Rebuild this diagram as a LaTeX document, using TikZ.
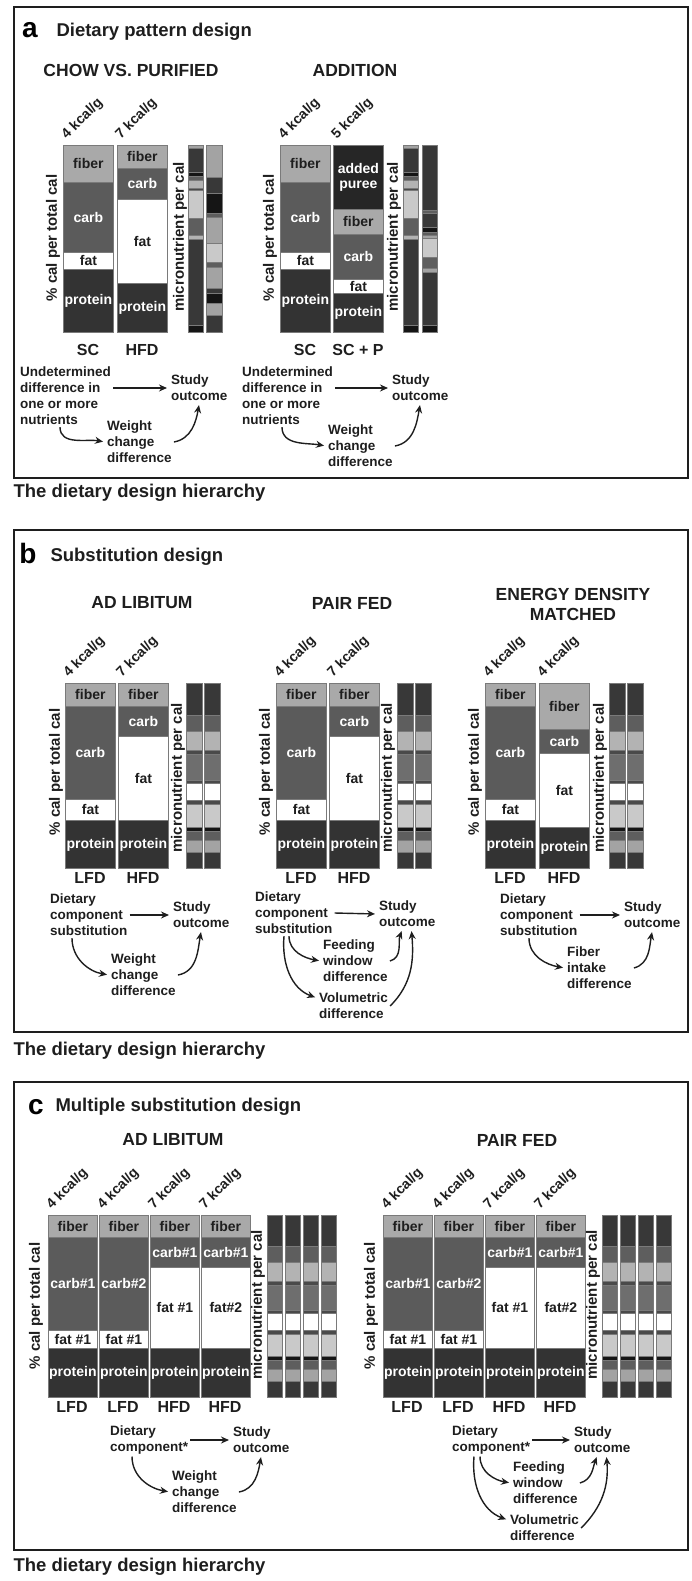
\documentclass[tikz,border=0pt]{standalone}
\usepackage{fontspec}
\setmainfont{Liberation Sans}
\usetikzlibrary{positioning, arrows.meta, calc}

\definecolor{fibergray}{HTML}{A9A9A9}
\definecolor{carbgray}{HTML}{5B5B5B}
\definecolor{protgray}{HTML}{333333}
\definecolor{pureegray}{HTML}{262626}
\definecolor{edgegray}{HTML}{7A7A7A}
\definecolor{inkgray}{HTML}{1E1E1E}
\definecolor{mdark}{HTML}{383838}
\definecolor{mmid}{HTML}{5E5E5E}
\definecolor{mmidb}{HTML}{6E6E6E}
\definecolor{mlight}{HTML}{B3B3B3}
\definecolor{mvlight}{HTML}{C9C9C9}
\definecolor{mthin}{HTML}{4A4A4A}
\definecolor{mblack}{HTML}{151515}
\definecolor{mgrey}{HTML}{A3A3A3}

% stacked diet bar: name, x, width, list of top/bottom/style/text
\newcommand{\dietbar}[4]{%
  \foreach \ya/\yb/\kind/\txt [count=\i] in {#4}
    \node[\kind, minimum width=#3, minimum height=\yb-\ya] (#1-\i) at (#2,-\ya) {\txt};
}
% micronutrient bar with absolute stripes: x, width, list of top/bottom/colour
\newcommand{\microbar}[3]{%
  \foreach \ya/\yb/\cl in {#3}
    \filldraw[fill=\cl, draw=edgegray, line width=0.5pt] (#1,-\ya) rectangle (#1+#2,-\yb);
}
% micronutrient bar, standard stripes: x, width, top, height
\newcommand{\microfrac}[4]{%
  \foreach \fa/\fb/\cl in {0/.173/mdark, .173/.259/mmid, .259/.362/mlight, .362/.384/mthin,
      .384/.524/mmidb, .524/.541/mthin, .541/.632/white, .632/.654/mthin, .654/.778/mvlight,
      .778/.8/mblack, .8/.849/mmid, .849/.914/mgrey, .914/1/mdark}
    \filldraw[fill=\cl, draw=edgegray, line width=0.5pt] (#1,{-(#3+\fa*#4)}) rectangle (#1+#2,{-(#3+\fb*#4)});
}

\begin{document}
\begin{tikzpicture}[
  x=1pt, y=1pt,
  seg/.style={draw=edgegray, line width=0.8pt, inner sep=0pt, align=center, anchor=north west,
    font=\fontsize{14}{15}\selectfont\bfseries},
  fiberseg/.style={seg, fill=fibergray, text=inkgray},
  carbseg/.style={seg, fill=carbgray, text=white},
  fatseg/.style={seg, fill=white, text=inkgray},
  protseg/.style={seg, fill=protgray, text=white},
  pureeseg/.style={seg, fill=pureegray, text=white},
  kcal/.style={rotate=45, anchor=south west, inner sep=0pt, text=inkgray, font=\fontsize{14}{14}\selectfont\bfseries},
  axislab/.style={rotate=90, inner sep=0pt, text=inkgray, font=\fontsize{15}{15}\selectfont\bfseries},
  dietlab/.style={text=inkgray, font=\fontsize{16}{16}\selectfont\bfseries},
  grouptitle/.style={align=center, text=inkgray, font=\fontsize{17.5}{20}\selectfont\bfseries},
  paneltitle/.style={anchor=west, text=inkgray, font=\fontsize{18.5}{18.5}\selectfont\bfseries},
  letter/.style={inner sep=0pt, text=black, font=\fontsize{28}{28}\selectfont\bfseries},
  hier/.style={anchor=west, text=inkgray, font=\fontsize{18.5}{18.5}\selectfont\bfseries},
  causal/.style={anchor=west, align=left, inner sep=2pt, text=inkgray, font=\fontsize{13.5}{16}\selectfont\bfseries},
  arr/.style={-{Stealth[length=8pt, width=7pt]}, line width=1.4pt, draw=inkgray, shorten >=2pt},
  panel/.style={draw=inkgray, line width=1.4pt}
]
\useasboundingbox (0,0) rectangle (691,-1581);

% ---------- panel a
\draw[panel] (14,-7) rectangle (688,-478);
\node[letter] (lettera) at (30,-30) {a};
\node[paneltitle] (titlea) at (53,-32) {Dietary pattern design};
\node[grouptitle] (chowtitle) at (131,-70) {CHOW VS. PURIFIED};
\node[grouptitle] (addtitle) at (355,-70) {ADDITION};

\dietbar{aSC}{63}{50}{145/182/fiberseg/fiber, 182/252/carbseg/carb, 252/269/fatseg/fat, 269/332/protseg/protein}
\dietbar{aHFD}{117}{50}{145/168/fiberseg/fiber, 168/199/carbseg/carb, 199/283/fatseg/fat, 283/332/protseg/protein}
\dietbar{aSCb}{280}{50}{145/182/fiberseg/fiber, 182/252/carbseg/carb, 252/269/fatseg/fat, 269/332/protseg/protein}
\dietbar{aSCP}{333}{50}{145/209/pureeseg/{added\\puree}, 209/234/fiberseg/fiber, 234/279/carbseg/carb, 279/293/fatseg/fat, 293/332/protseg/protein}

\microbar{188}{15}{145/148/mgrey, 148/172/mdark, 172/176/mblack, 176/180/mmid, 180/188/mlight, 188/190/mthin,
  190/218/mvlight, 218/235/mmid, 235/239/mlight, 239/325/mdark, 325/332/mblack}
\microbar{206}{16}{145/177/mgrey, 177/193/mdark, 193/213/mblack, 213/217/mmid, 217/243/mgrey, 243/262/mvlight,
  262/267/mmid, 267/288/mgrey, 288/293/mdark, 293/303/mblack, 303/315/mgrey, 315/332/mdark}
\microbar{403}{15}{145/148/mgrey, 148/172/mdark, 172/176/mblack, 176/180/mmid, 180/188/mlight, 188/190/mthin,
  190/218/mvlight, 218/235/mmid, 235/239/mlight, 239/325/mdark, 325/332/mblack}
\microbar{422}{15}{145/210/mdark, 210/213/mmid, 213/227/mdark, 227/232/mblack, 232/235/mmid, 235/238/mgrey,
  238/257/mvlight, 257/268/mmid, 268/272/mgrey, 272/325/mdark, 325/332/mblack}

\node[kcal] (kSC) at (69,-142) {4 kcal/g};
\node[kcal] (kHFD) at (123,-142) {7 kcal/g};
\node[kcal] (kSCb) at (286,-142) {4 kcal/g};
\node[kcal] (kSCP) at (339,-142) {5 kcal/g};
\node[axislab] (pcta) at (53,-238) {\% cal per total cal};
\node[axislab] (mica) at (180,-237) {micronutrient per cal};
\node[axislab] (pctb) at (270,-238) {\% cal per total cal};
\node[axislab] (micb) at (394,-237) {micronutrient per cal};
\node[dietlab] (lSC) at (88,-350) {SC};
\node[dietlab] (lHFD) at (142,-350) {HFD};
\node[dietlab] (lSCb) at (305,-350) {SC};
\node[dietlab] (lSCP) at (358,-350) {SC + P};

\node[causal] (cpUnd) at (18,-396) {Undetermined\\difference in\\one or more\\nutrients};
\node[causal] (cpOut) at (169,-388) {Study\\outcome};
\node[causal] (cpWcd) at (105,-442) {Weight\\change\\difference};
\draw[arr] (cpUnd.east |- cpOut.west) -- (cpOut.west);
\draw[arr] ([xshift=42pt]cpUnd.south west) to[out=-90, in=170] (cpWcd.west);
\draw[arr] (cpWcd.east) to[out=10, in=-100] (cpOut.south);

\node[causal] (adUnd) at (240,-396) {Undetermined\\difference in\\one or more\\nutrients};
\node[causal] (adOut) at (390,-388) {Study\\outcome};
\node[causal] (adWcd) at (326,-446) {Weight\\change\\difference};
\draw[arr] (adUnd.east |- adOut.west) -- (adOut.west);
\draw[arr] ([xshift=42pt]adUnd.south west) to[out=-90, in=170] (adWcd.west);
\draw[arr] (adWcd.east) to[out=10, in=-100] (adOut.south);

\node[hier] (hierA) at (10,-493) {The dietary design hierarchy};

% ---------- panel b
\draw[panel] (14,-530) rectangle (688,-1032);
\node[letter] (letterb) at (28,-553) {b};
\node[paneltitle] (titleb) at (47,-557) {Substitution design};
\node[grouptitle] (altitle) at (142,-603) {AD LIBITUM};
\node[grouptitle] (pftitle) at (352,-603) {PAIR FED};
\node[grouptitle] (edtitle) at (573,-604) {ENERGY DENSITY\\MATCHED};

\dietbar{bLFD}{65}{50}{683/706/fiberseg/fiber, 706/799/carbseg/carb, 799/820/fatseg/fat, 820/868/protseg/protein}
\dietbar{bHFD}{118}{50}{683/706/fiberseg/fiber, 706/736/carbseg/carb, 736/820/fatseg/fat, 820/868/protseg/protein}
\dietbar{pLFD}{276}{50}{683/706/fiberseg/fiber, 706/799/carbseg/carb, 799/820/fatseg/fat, 820/868/protseg/protein}
\dietbar{pHFD}{329}{50}{683/706/fiberseg/fiber, 706/736/carbseg/carb, 736/820/fatseg/fat, 820/868/protseg/protein}
\dietbar{eLFD}{485}{50}{683/706/fiberseg/fiber, 706/799/carbseg/carb, 799/820/fatseg/fat, 820/868/protseg/protein}
\dietbar{eHFD}{539}{50}{683/729/fiberseg/fiber, 729/753/carbseg/carb, 753/827/fatseg/fat, 827/868/protseg/protein}
\foreach \mx in {186, 204, 397, 415, 609, 627} {
  \microfrac{\mx}{16}{683}{185}
}

\foreach \kx/\kt [count=\k] in {65/4, 118/7, 276/4, 329/7, 485/4, 539/4}
  \node[kcal] (kb\k) at (\kx+6,-680) {\kt\ kcal/g};
\foreach \px/\mx [count=\k] in {56/178, 266/388, 475/600} {
  \node[axislab] (pctb\k) at (\px,-772) {\% cal per total cal};
  \node[axislab] (micb\k) at (\mx,-778) {micronutrient per cal};
}
\foreach \lx/\lt [count=\k] in {90/LFD, 143/HFD, 301/LFD, 354/HFD, 510/LFD, 564/HFD}
  \node[dietlab] (lb\k) at (\lx,-878) {\lt};

\node[causal] (alDcs) at (48,-915) {Dietary\\component\\substitution};
\node[causal] (alOut) at (171,-915) {Study\\outcome};
\node[causal] (alWcd) at (109,-975) {Weight\\change\\difference};
\draw[arr] (alDcs.east) -- (alOut.west);
\draw[arr] ([xshift=24pt]alDcs.south west) to[out=-90, in=170] (alWcd.west);
\draw[arr] (alWcd.east) to[out=10, in=-100] (alOut.south);

\node[causal] (pfDcs) at (253,-913) {Dietary\\component\\substitution};
\node[causal] (pfOut) at (377,-914) {Study\\outcome};
\node[causal] (pfFwd) at (321,-961) {Feeding\\window\\difference};
\node[causal] (pfVol) at (317,-1006) {Volumetric\\difference};
\draw[arr] (pfDcs.east) -- (pfOut.west);
\draw[arr] ([xshift=36pt]pfDcs.south west) to[out=-90, in=170] (pfFwd.west);
\draw[arr] ([xshift=31pt]pfDcs.south west) to[out=-95, in=160] ([yshift=8pt]pfVol.west);
\draw[arr] (pfFwd.east) to[out=15, in=-110] ([xshift=-5pt]pfOut.south);
\draw[arr] (pfVol.east) to[out=45, in=-85] ([xshift=4pt]pfOut.south);

\node[causal] (edDcs) at (498,-915) {Dietary\\component\\substitution};
\node[causal] (edOut) at (622,-915) {Study\\outcome};
\node[causal] (edFid) at (565,-968) {Fiber\\intake\\difference};
\draw[arr] (edDcs.east) -- (edOut.west);
\draw[arr] ([xshift=31pt]edDcs.south west) to[out=-90, in=170] (edFid.west);
\draw[arr] (edFid.east) to[out=15, in=-100] (edOut.south);

\node[hier] (hierB) at (10,-1051) {The dietary design hierarchy};

% ---------- panel c
\draw[panel] (14,-1082) rectangle (688,-1550);
\node[letter] (letterc) at (36,-1107) {c};
\node[paneltitle] (titlec) at (52,-1107) {Multiple substitution design};
\node[grouptitle] (maltitle) at (173,-1140) {AD LIBITUM};
\node[grouptitle] (mpftitle) at (517,-1140) {PAIR FED};

\foreach \ox/\g in {0/m, 335/n} {
  \dietbar{\g LFDa}{48+\ox}{49}{1215/1237/fiberseg/fiber, 1237/1330/carbseg/carb\#1, 1330/1348/fatseg/{fat \#1}, 1348/1397/protseg/protein}
  \dietbar{\g LFDb}{99+\ox}{49}{1215/1237/fiberseg/fiber, 1237/1330/carbseg/carb\#2, 1330/1348/fatseg/{fat \#1}, 1348/1397/protseg/protein}
  \dietbar{\g HFDa}{150+\ox}{49}{1215/1237/fiberseg/fiber, 1237/1267/carbseg/carb\#1, 1267/1348/fatseg/{fat \#1}, 1348/1397/protseg/protein}
  \dietbar{\g HFDb}{201+\ox}{49}{1215/1237/fiberseg/fiber, 1237/1267/carbseg/carb\#1, 1267/1348/fatseg/fat\#2, 1348/1397/protseg/protein}
  \foreach \mx in {267, 285, 303, 321} {
    \microfrac{\mx+\ox}{15}{1215}{182}
  }
  \foreach \kx/\kt [count=\k] in {48/4, 99/4, 150/7, 201/7}
    \node[kcal] (kc\g\k) at (\kx+\ox+6,-1212) {\kt\ kcal/g};
  \node[axislab] (pctc\g) at (36+\ox,-1306) {\% cal per total cal};
  \node[axislab] (micc\g) at (258+\ox,-1305) {micronutrient per cal};
  \foreach \lx/\lt [count=\k] in {72/LFD, 123/LFD, 174/HFD, 225/HFD}
    \node[dietlab] (lc\g\k) at (\lx+\ox,-1407) {\lt};
}

\node[causal] (malDc) at (108,-1440) {Dietary\\component*};
\node[causal] (malOut) at (231,-1440) {Study\\outcome};
\node[causal] (malWcd) at (170,-1492) {Weight\\change\\difference};
\draw[arr] (malDc.east) -- (malOut.west);
\draw[arr] ([xshift=24pt]malDc.south west) to[out=-90, in=170] (malWcd.west);
\draw[arr] (malWcd.east) to[out=10, in=-100] (malOut.south);

\node[causal] (mpfDc) at (450,-1440) {Dietary\\component*};
\node[causal] (mpfOut) at (572,-1440) {Study\\outcome};
\node[causal] (mpfFwd) at (511,-1483) {Feeding\\window\\difference};
\node[causal] (mpfVol) at (508,-1528) {Volumetric\\difference};
\draw[arr] (mpfDc.east) -- (mpfOut.west);
\draw[arr] ([xshift=30pt]mpfDc.south west) to[out=-90, in=170] (mpfFwd.west);
\draw[arr] ([xshift=24pt]mpfDc.south west) to[out=-95, in=160] ([yshift=8pt]mpfVol.west);
\draw[arr] (mpfFwd.east) to[out=15, in=-110] ([xshift=-5pt]mpfOut.south);
\draw[arr] (mpfVol.east) to[out=45, in=-85] ([xshift=4pt]mpfOut.south);

\node[hier] (hierC) at (10,-1567) {The dietary design hierarchy};
\end{tikzpicture}
\end{document}
